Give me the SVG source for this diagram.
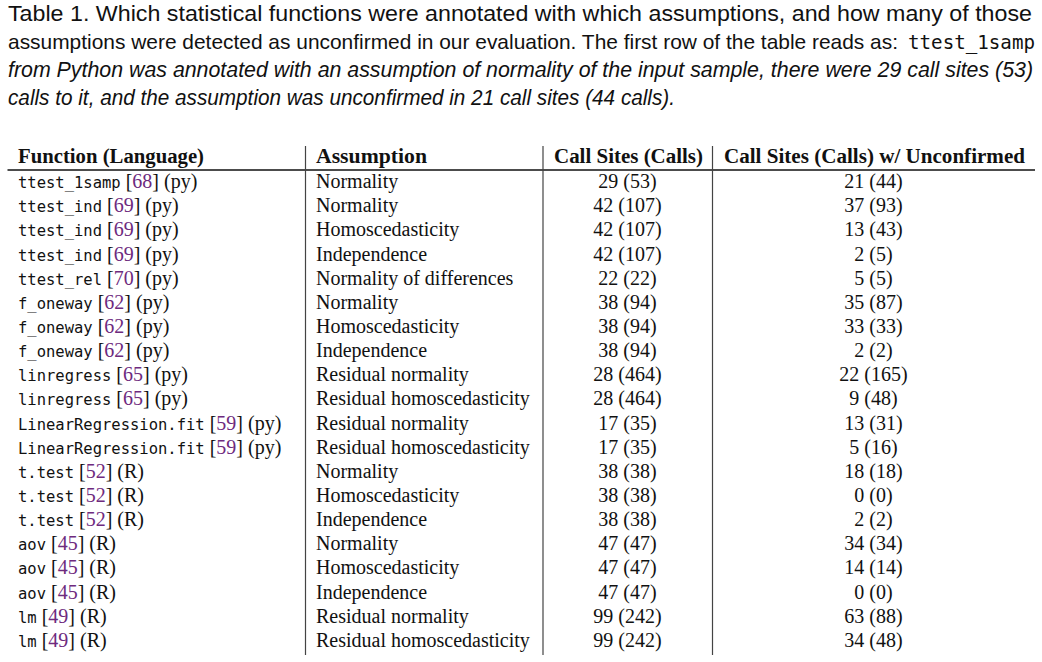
<svg xmlns="http://www.w3.org/2000/svg" width="1042" height="662" viewBox="0 0 1042 662">
<style>
.cap{font-family:"Liberation Sans",Arial,sans-serif;font-size:21.5px;fill:#111}
.capi{font-family:"Liberation Sans",Arial,sans-serif;font-size:21.5px;font-style:italic;fill:#111}
.capm{font-family:"DejaVu Sans Mono","Liberation Mono",monospace;font-size:19.5px;fill:#111}
.t{font-family:"Liberation Serif","Times New Roman",serif;font-size:20px;fill:#111}
.h{font-family:"Liberation Serif","Times New Roman",serif;font-size:20px;font-weight:bold;fill:#111}
.m{font-family:"DejaVu Sans Mono","Liberation Mono",monospace;font-size:15.5px}
.c{fill:#6E2A7E}
.mid{text-anchor:middle}
.rule{stroke:#111;stroke-width:1.5}
.vl{stroke:#444;stroke-width:1.2}
</style>
<g id="caption">
<text class="cap" x="8" y="21" textLength="1024" lengthAdjust="spacingAndGlyphs">Table 1. Which statistical functions were annotated with which assumptions, and how many of those</text>
<text class="cap" x="8" y="49" style="font-size:21px" textLength="890" lengthAdjust="spacingAndGlyphs">assumptions were detected as unconfirmed in our evaluation. The first row of the table reads as:</text>
<text class="capm" x="908" y="49" textLength="127" lengthAdjust="spacingAndGlyphs">ttest_1samp</text>
<text class="capi" x="8" y="77" textLength="1025" lengthAdjust="spacingAndGlyphs">from Python was annotated with an assumption of normality of the input sample, there were 29 call sites (53)</text>
<text class="capi" x="8" y="105" textLength="667" lengthAdjust="spacingAndGlyphs">calls to it, and the assumption was unconfirmed in 21 call sites (44 calls).</text>
</g>
<g id="grid">
<line class="rule" x1="7.5" y1="170" x2="1035" y2="170"/>
<line class="vl" x1="305.5" y1="146" x2="305.5" y2="655"/>
<line class="vl" x1="543" y1="146" x2="543" y2="655"/>
<line class="vl" x1="712.5" y1="146" x2="712.5" y2="655"/>
</g>
<g id="header">
<text class="h" x="18" y="163" textLength="186" lengthAdjust="spacingAndGlyphs">Function (Language)</text>
<text class="h" x="316" y="163" textLength="111" lengthAdjust="spacingAndGlyphs">Assumption</text>
<text class="h" x="554" y="163" textLength="149" lengthAdjust="spacingAndGlyphs">Call Sites (Calls)</text>
<text class="h" x="724" y="163" textLength="301" lengthAdjust="spacingAndGlyphs">Call Sites (Calls) w/ Unconfirmed</text>
</g>
<g id="rows" transform="translate(0,1)">
<g id="r1"><text class="t" x="18" y="187"><tspan class="m">ttest_1samp</tspan> [<tspan class="c">68</tspan>] (py)</text><text class="t" x="316" y="187">Normality</text><text class="t mid" x="627.5" y="187">29 (53)</text><text class="t mid" x="873.5" y="187">21 (44)</text></g>
<g id="r2"><text class="t" x="18" y="211.2"><tspan class="m">ttest_ind</tspan> [<tspan class="c">69</tspan>] (py)</text><text class="t" x="316" y="211.2">Normality</text><text class="t mid" x="627.5" y="211.2">42 (107)</text><text class="t mid" x="873.5" y="211.2">37 (93)</text></g>
<g id="r3"><text class="t" x="18" y="235.3"><tspan class="m">ttest_ind</tspan> [<tspan class="c">69</tspan>] (py)</text><text class="t" x="316" y="235.3">Homoscedasticity</text><text class="t mid" x="627.5" y="235.3">42 (107)</text><text class="t mid" x="873.5" y="235.3">13 (43)</text></g>
<g id="r4"><text class="t" x="18" y="259.5"><tspan class="m">ttest_ind</tspan> [<tspan class="c">69</tspan>] (py)</text><text class="t" x="316" y="259.5">Independence</text><text class="t mid" x="627.5" y="259.5">42 (107)</text><text class="t mid" x="873.5" y="259.5">2 (5)</text></g>
<g id="r5"><text class="t" x="18" y="283.6"><tspan class="m">ttest_rel</tspan> [<tspan class="c">70</tspan>] (py)</text><text class="t" x="316" y="283.6">Normality of differences</text><text class="t mid" x="627.5" y="283.6">22 (22)</text><text class="t mid" x="873.5" y="283.6">5 (5)</text></g>
<g id="r6"><text class="t" x="18" y="307.8"><tspan class="m">f_oneway</tspan> [<tspan class="c">62</tspan>] (py)</text><text class="t" x="316" y="307.8">Normality</text><text class="t mid" x="627.5" y="307.8">38 (94)</text><text class="t mid" x="873.5" y="307.8">35 (87)</text></g>
<g id="r7"><text class="t" x="18" y="331.9"><tspan class="m">f_oneway</tspan> [<tspan class="c">62</tspan>] (py)</text><text class="t" x="316" y="331.9">Homoscedasticity</text><text class="t mid" x="627.5" y="331.9">38 (94)</text><text class="t mid" x="873.5" y="331.9">33 (33)</text></g>
<g id="r8"><text class="t" x="18" y="356.1"><tspan class="m">f_oneway</tspan> [<tspan class="c">62</tspan>] (py)</text><text class="t" x="316" y="356.1">Independence</text><text class="t mid" x="627.5" y="356.1">38 (94)</text><text class="t mid" x="873.5" y="356.1">2 (2)</text></g>
<g id="r9"><text class="t" x="18" y="380.2"><tspan class="m">linregress</tspan> [<tspan class="c">65</tspan>] (py)</text><text class="t" x="316" y="380.2">Residual normality</text><text class="t mid" x="627.5" y="380.2">28 (464)</text><text class="t mid" x="873.5" y="380.2">22 (165)</text></g>
<g id="r10"><text class="t" x="18" y="404.4"><tspan class="m">linregress</tspan> [<tspan class="c">65</tspan>] (py)</text><text class="t" x="316" y="404.4">Residual homoscedasticity</text><text class="t mid" x="627.5" y="404.4">28 (464)</text><text class="t mid" x="873.5" y="404.4">9 (48)</text></g>
<g id="r11"><text class="t" x="18" y="428.5"><tspan class="m">LinearRegression.fit</tspan> [<tspan class="c">59</tspan>] (py)</text><text class="t" x="316" y="428.5">Residual normality</text><text class="t mid" x="627.5" y="428.5">17 (35)</text><text class="t mid" x="873.5" y="428.5">13 (31)</text></g>
<g id="r12"><text class="t" x="18" y="452.7"><tspan class="m">LinearRegression.fit</tspan> [<tspan class="c">59</tspan>] (py)</text><text class="t" x="316" y="452.7">Residual homoscedasticity</text><text class="t mid" x="627.5" y="452.7">17 (35)</text><text class="t mid" x="873.5" y="452.7">5 (16)</text></g>
<g id="r13"><text class="t" x="18" y="476.8"><tspan class="m">t.test</tspan> [<tspan class="c">52</tspan>] (R)</text><text class="t" x="316" y="476.8">Normality</text><text class="t mid" x="627.5" y="476.8">38 (38)</text><text class="t mid" x="873.5" y="476.8">18 (18)</text></g>
<g id="r14"><text class="t" x="18" y="501"><tspan class="m">t.test</tspan> [<tspan class="c">52</tspan>] (R)</text><text class="t" x="316" y="501">Homoscedasticity</text><text class="t mid" x="627.5" y="501">38 (38)</text><text class="t mid" x="873.5" y="501">0 (0)</text></g>
<g id="r15"><text class="t" x="18" y="525.1"><tspan class="m">t.test</tspan> [<tspan class="c">52</tspan>] (R)</text><text class="t" x="316" y="525.1">Independence</text><text class="t mid" x="627.5" y="525.1">38 (38)</text><text class="t mid" x="873.5" y="525.1">2 (2)</text></g>
<g id="r16"><text class="t" x="18" y="549.3"><tspan class="m">aov</tspan> [<tspan class="c">45</tspan>] (R)</text><text class="t" x="316" y="549.3">Normality</text><text class="t mid" x="627.5" y="549.3">47 (47)</text><text class="t mid" x="873.5" y="549.3">34 (34)</text></g>
<g id="r17"><text class="t" x="18" y="573.4"><tspan class="m">aov</tspan> [<tspan class="c">45</tspan>] (R)</text><text class="t" x="316" y="573.4">Homoscedasticity</text><text class="t mid" x="627.5" y="573.4">47 (47)</text><text class="t mid" x="873.5" y="573.4">14 (14)</text></g>
<g id="r18"><text class="t" x="18" y="597.6"><tspan class="m">aov</tspan> [<tspan class="c">45</tspan>] (R)</text><text class="t" x="316" y="597.6">Independence</text><text class="t mid" x="627.5" y="597.6">47 (47)</text><text class="t mid" x="873.5" y="597.6">0 (0)</text></g>
<g id="r19"><text class="t" x="18" y="621.7"><tspan class="m">lm</tspan> [<tspan class="c">49</tspan>] (R)</text><text class="t" x="316" y="621.7">Residual normality</text><text class="t mid" x="627.5" y="621.7">99 (242)</text><text class="t mid" x="873.5" y="621.7">63 (88)</text></g>
<g id="r20"><text class="t" x="18" y="645.9"><tspan class="m">lm</tspan> [<tspan class="c">49</tspan>] (R)</text><text class="t" x="316" y="645.9">Residual homoscedasticity</text><text class="t mid" x="627.5" y="645.9">99 (242)</text><text class="t mid" x="873.5" y="645.9">34 (48)</text></g>
</g>
</svg>
